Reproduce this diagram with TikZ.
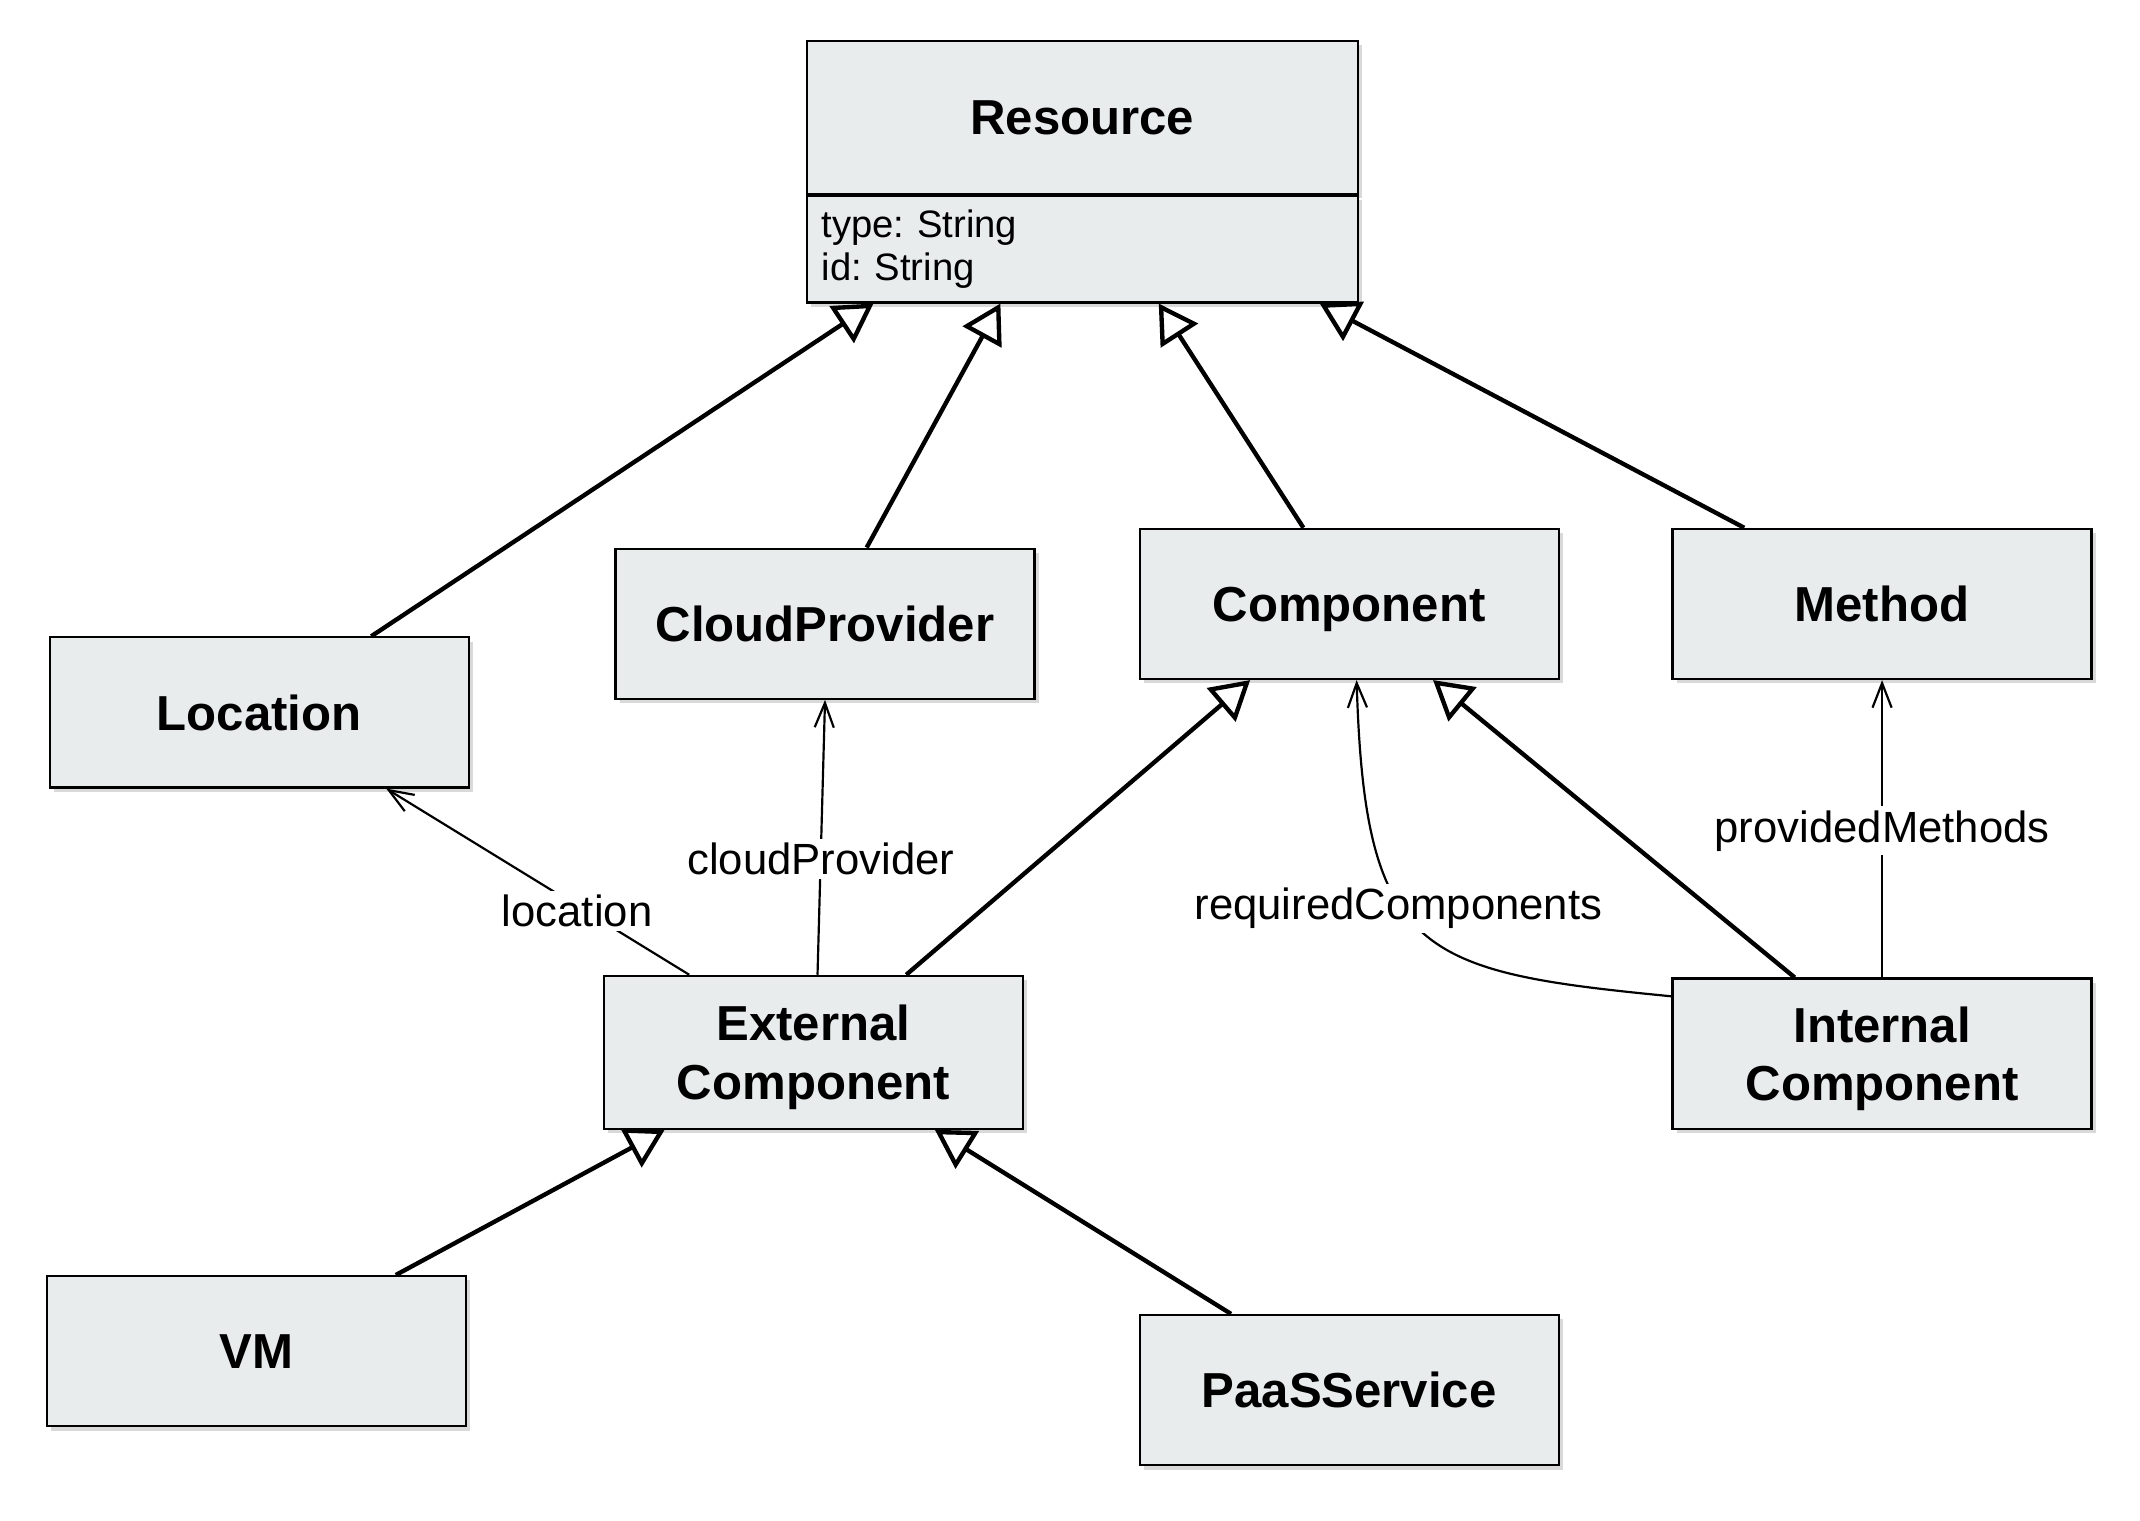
\documentclass[tikz,border=0pt]{standalone}
\usepackage{fontspec}
\setmainfont{Liberation Sans}
\usepackage{tikz}
\usetikzlibrary{calc,arrows.meta,shadows}
\definecolor{boxfill}{HTML}{E9ECED}
\frenchspacing
\tikzset{
  base/.style={draw=black, fill=boxfill, line width=0.8pt, inner sep=0pt,
    drop shadow={shadow xshift=1.6pt, shadow yshift=-1.6pt, opacity=0.3}},
  cls/.style={base, minimum width=153.5pt, minimum height=55pt, align=center,
    text depth=0pt, font=\fontsize{18}{21.5}\selectfont\bfseries},
  attr/.style={base, font=\fontsize{14}{15.5}\selectfont, align=left, text width=191pt},
  gen/.style={draw=black, line width=1.6pt, -{Triangle[length=14pt, width=16pt, fill=white]}},
  assoc/.style={draw=black, line width=0.8pt, -{Straight Barb[length=9pt, width=7pt]}},
  lab/.style={fill=white, inner sep=1.5pt, yshift=-1.8pt, font=\fontsize{16}{19}\selectfont},
}
\begin{document}
\begin{tikzpicture}[x=0.5pt, y=-0.5pt]
  \useasboundingbox (0,0) rectangle (1568,1114.4);
  % classes
  \node[cls, minimum width=202pt, minimum height=56pt] (res) at (793,86) {Resource};
  \node[attr, minimum width=202pt, minimum height=39pt, anchor=north] (resattr) at (res.south) {type: String\\id: String};
  \node[cls] (loc) at (190,522) {Location};
  \node[cls] (cloud) at (604.5,457) {CloudProvider};
  \node[cls] (comp) at (988.5,442.5) {Component};
  \node[cls] (meth) at (1379,442.5) {Method};
  \node[cls, minimum height=56pt] (ext) at (596,771) {External\\Component};
  \node[cls] (int) at (1379,772) {Internal\\Component};
  \node[cls] (vm) at (188,990) {VM};
  \node[cls] (paas) at (988.5,1018.5) {PaaSService};
  % generalizations
  \draw[gen] ($(loc.north)+(82,0)$) -- ($(resattr.south)+(-153,0)$);
  \draw[gen] ($(cloud.north)+(30.5,0)$) -- ($(resattr.south)+(-60,0)$);
  \draw[gen] ($(comp.north)+(-33.5,0)$) -- ($(resattr.south)+(56,0)$);
  \draw[gen] ($(meth.north)+(-101,0)$) -- ($(resattr.south)+(174,0)$);
  \draw[gen] ($(ext.north)+(68,0)$) -- ($(comp.south)+(-72.5,0)$);
  \draw[gen] ($(int.north)+(-64,0)$) -- ($(comp.south)+(61.5,0)$);
  \draw[gen] ($(vm.north)+(102,0)$) -- ($(ext.south)+(-109,0)$);
  \draw[gen] ($(paas.north)+(-86.5,0)$) -- ($(ext.south)+(89,0)$);
  % associations
  \draw[assoc] ($(ext.north)+(-91,0)$) -- node[lab, pos=0.37] {location} ($(loc.south)+(93,0)$);
  \draw[assoc] ($(ext.north)+(3,0)$) -- node[lab, pos=0.44] {cloudProvider} (cloud.south);
  \draw[assoc] ($(int.west)+(0,-42)$) .. controls (1040,712) and (1000,700) ..
    node[lab, pos=0.6] {requiredComponents} ($(comp.south)+(5.5,0)$);
  \draw[assoc] (int.north) -- node[lab, pos=0.51] {providedMethods} (meth.south);
\end{tikzpicture}
\end{document}
